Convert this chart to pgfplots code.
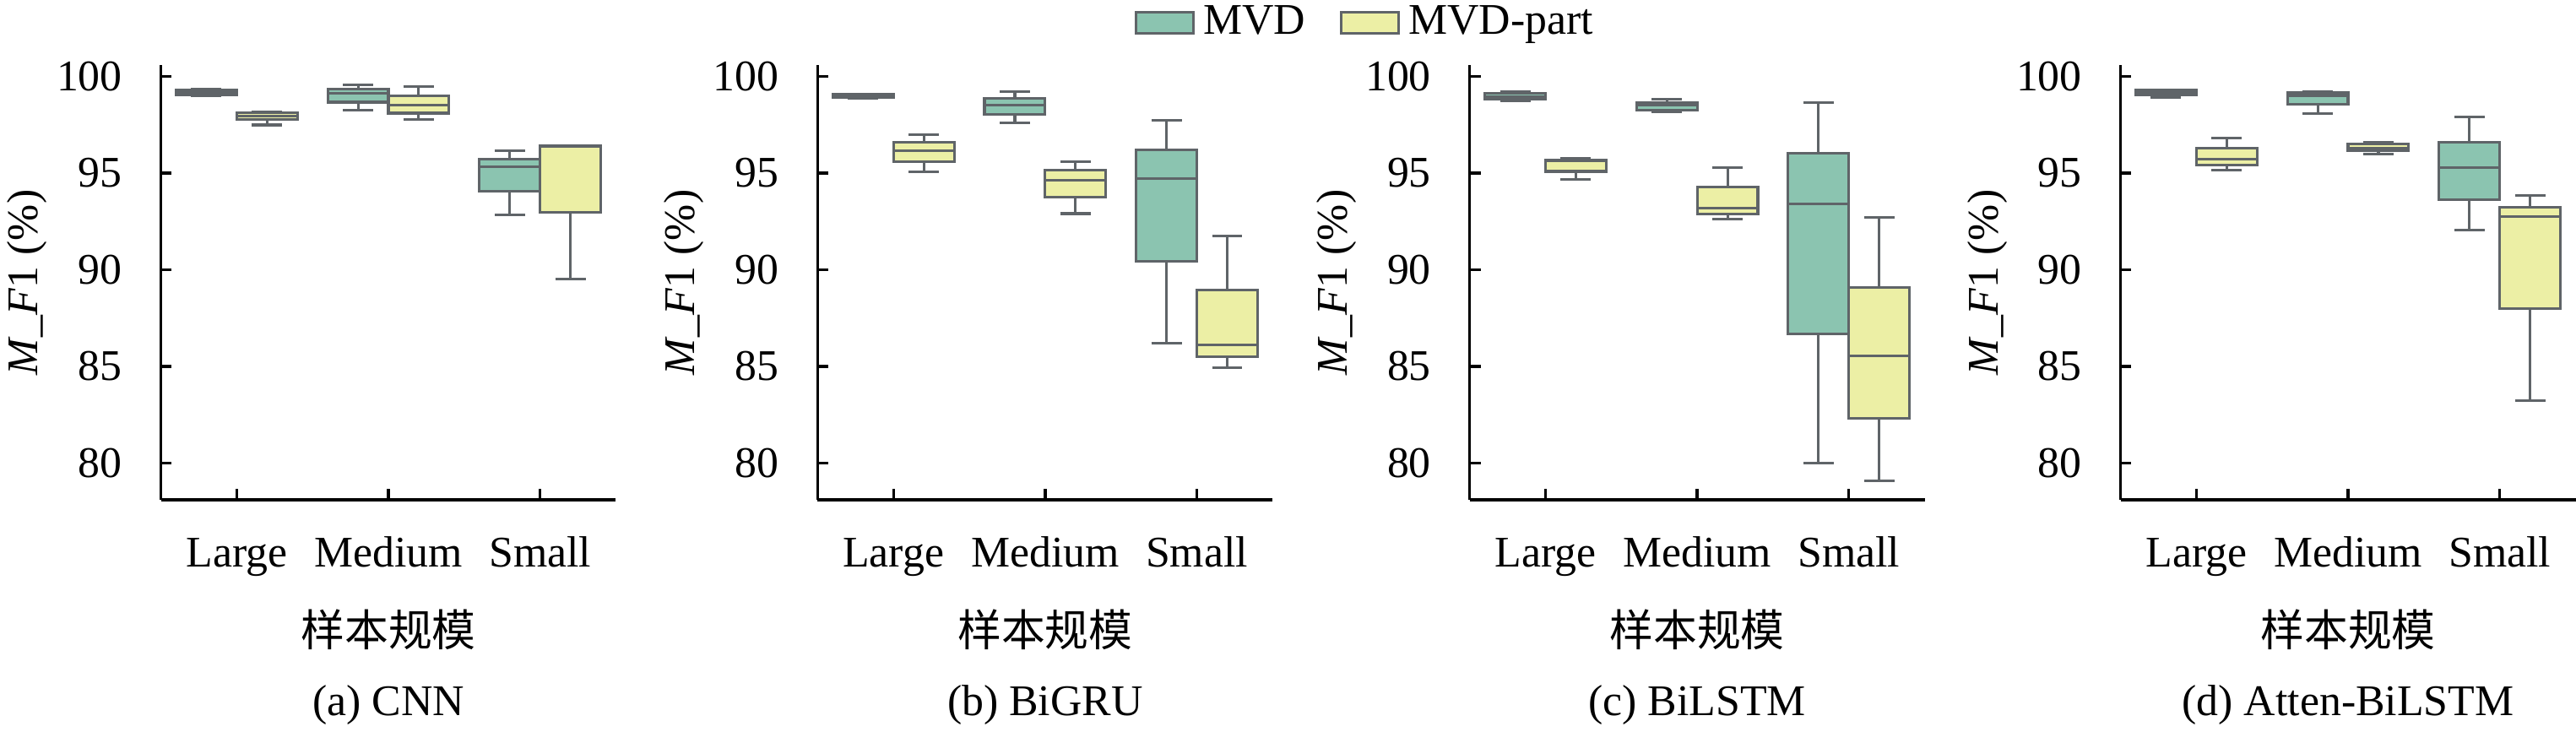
\documentclass[border=0pt]{standalone}
\usepackage{pgfplots}
\pgfplotsset{compat=1.18}
\usepackage{fontspec}
\setmainfont{Liberation Serif}
\newfontfamily\cjk{Noto Sans CJK SC}

\definecolor{mvdc}{HTML}{8BC4B0}
\definecolor{partc}{HTML}{ECEFA5}
\definecolor{boxgray}{HTML}{5F6468}

\pgfplotsset{
  whisk/.style={draw=boxgray, line width=0.6pt, mark=none},
  medline/.style={draw=boxgray, line width=0.6pt, mark=none},
  mvdstyle/.style={draw=boxgray, fill=mvdc, line width=0.6pt, mark=none},
  partstyle/.style={draw=boxgray, fill=partc, line width=0.6pt, mark=none},
  mvdleg/.style={legend image code/.code={\draw[fill=mvdc,draw=boxgray,line width=0.6pt] (0pt,-2.4pt) rectangle (13.1pt,2.4pt);}},
  partleg/.style={legend image code/.code={\draw[fill=partc,draw=boxgray,line width=0.6pt] (0pt,-2.4pt) rectangle (13.1pt,2.4pt);}},
  panel/.style={
    scale only axis, width=104.05pt, height=99.4pt,
    anchor=south west, clip=false,
    xmin=-0.5, xmax=2.5, ymin=78.1, ymax=100.57,
    axis x line*=bottom, axis y line*=left,
    axis line style={line width=0.65pt, black},
    xtick={0,1,2}, xticklabels={Large,Medium,Small},
    ytick={80,85,90,95,100},
    tick align=inside, major tick length=2.5pt,
    tick style={line width=0.65pt, black},
    xticklabel style={anchor=base, yshift=-15.4pt},
    yticklabel style={xshift=-5.3pt},
    /pgf/number format/assume math mode=true,
  }
}
% #1 style, #2 position, #3 lower whisker, #4 lower quartile, #5 median, #6 upper quartile, #7 upper whisker
\newcommand{\bx}[7]{%
  \pgfmathsetmacro{\xl}{#2-0.2}\pgfmathsetmacro{\xr}{#2+0.2}%
  \pgfmathsetmacro{\wl}{#2-0.1}\pgfmathsetmacro{\wr}{#2+0.1}%
  \edef\tmp{%
    \noexpand\addplot[whisk] coordinates {(#2,#3) (#2,#4)};
    \noexpand\addplot[whisk] coordinates {(#2,#6) (#2,#7)};
    \noexpand\addplot[whisk] coordinates {(\wl,#3) (\wr,#3)};
    \noexpand\addplot[whisk] coordinates {(\wl,#7) (\wr,#7)};
    \noexpand\addplot[#1] coordinates {(\xl,#4) (\xr,#4) (\xr,#6) (\xl,#6)} -- cycle;
    \noexpand\addplot[medline] coordinates {(\xl,#5) (\xr,#5)};
  }\tmp}
\newcommand{\decor}[2]{%
  \node[anchor=center] at ([yshift=-29.6pt]#1.south) {\cjk 样本规模};
  \node[anchor=base] at ([yshift=-49.4pt]#1.south) {#2};
  \node[rotate=90, anchor=center] at ([xshift=-30.5pt]#1.west) {\textit{M}\_\textit{F}1 (\%)};
}

\begin{document}
\begin{tikzpicture}
\useasboundingbox (0,0) rectangle (589pt,167.2pt);

\begin{axis}[panel, name=pa, at={(36.78pt,52.9pt)}]
\bx{mvdstyle}{-0.2}{98.98}{99.05}{99.17}{99.28}{99.33}
\bx{partstyle}{0.2}{97.48}{97.75}{97.95}{98.12}{98.17}
\bx{mvdstyle}{0.8}{98.23}{98.66}{99.13}{99.35}{99.56}
\bx{partstyle}{1.2}{97.75}{98.09}{98.52}{98.98}{99.46}
\bx{mvdstyle}{1.8}{92.82}{94.04}{95.32}{95.71}{96.15}
\bx{partstyle}{2.2}{89.53}{92.95}{96.39}{96.39}{96.39}
\end{axis}
\decor{pa}{(a) CNN}

\begin{axis}[panel, name=pb, at={(186.95pt,52.9pt)},
  legend style={at={(1.21,1.097)}, anchor=center, draw=none, fill=none,
    legend columns=2, inner sep=0pt, nodes={inner sep=2pt},
    /tikz/every even column/.append style={column sep=5.9pt}},
  legend cell align=left]
\addlegendimage{mvdleg}
\addlegendimage{partleg}
\legend{MVD,MVD-part}
\bx{mvdstyle}{-0.2}{98.84}{98.89}{99.00}{99.08}{99.08}
\bx{partstyle}{0.2}{95.06}{95.59}{96.15}{96.58}{96.96}
\bx{mvdstyle}{0.8}{97.60}{98.04}{98.50}{98.85}{99.21}
\bx{partstyle}{1.2}{92.90}{93.75}{94.62}{95.13}{95.59}
\bx{mvdstyle}{1.8}{86.21}{90.43}{94.71}{96.20}{97.73}
\bx{partstyle}{2.2}{84.95}{85.51}{86.10}{88.93}{91.74}
\end{axis}
\decor{pb}{(b) BiGRU}

\begin{axis}[panel, name=pc, at={(336.03pt,52.9pt)}]
\bx{mvdstyle}{-0.2}{98.73}{98.81}{98.95}{99.10}{99.20}
\bx{partstyle}{0.2}{94.65}{95.08}{95.62}{95.68}{95.77}
\bx{mvdstyle}{0.8}{98.18}{98.23}{98.50}{98.62}{98.81}
\bx{partstyle}{1.2}{92.63}{92.87}{93.19}{94.26}{95.26}
\bx{mvdstyle}{1.8}{80.00}{86.69}{93.41}{96.00}{98.65}
\bx{partstyle}{2.2}{79.09}{82.30}{85.53}{89.09}{92.70}
\end{axis}
\decor{pc}{(c) BiLSTM}

\begin{axis}[panel, name=pd, at={(484.85pt,52.9pt)}]
\bx{mvdstyle}{-0.2}{98.91}{99.04}{99.16}{99.27}{99.30}
\bx{partstyle}{0.2}{95.16}{95.42}{95.72}{96.29}{96.81}
\bx{mvdstyle}{0.8}{98.08}{98.55}{98.98}{99.14}{99.20}
\bx{partstyle}{1.2}{95.99}{96.16}{96.28}{96.50}{96.57}
\bx{mvdstyle}{1.8}{92.06}{93.63}{95.27}{96.57}{97.91}
\bx{partstyle}{2.2}{83.23}{87.99}{92.73}{93.24}{93.82}
\end{axis}
\decor{pd}{(d) Atten-BiLSTM}
\end{tikzpicture}
\end{document}
